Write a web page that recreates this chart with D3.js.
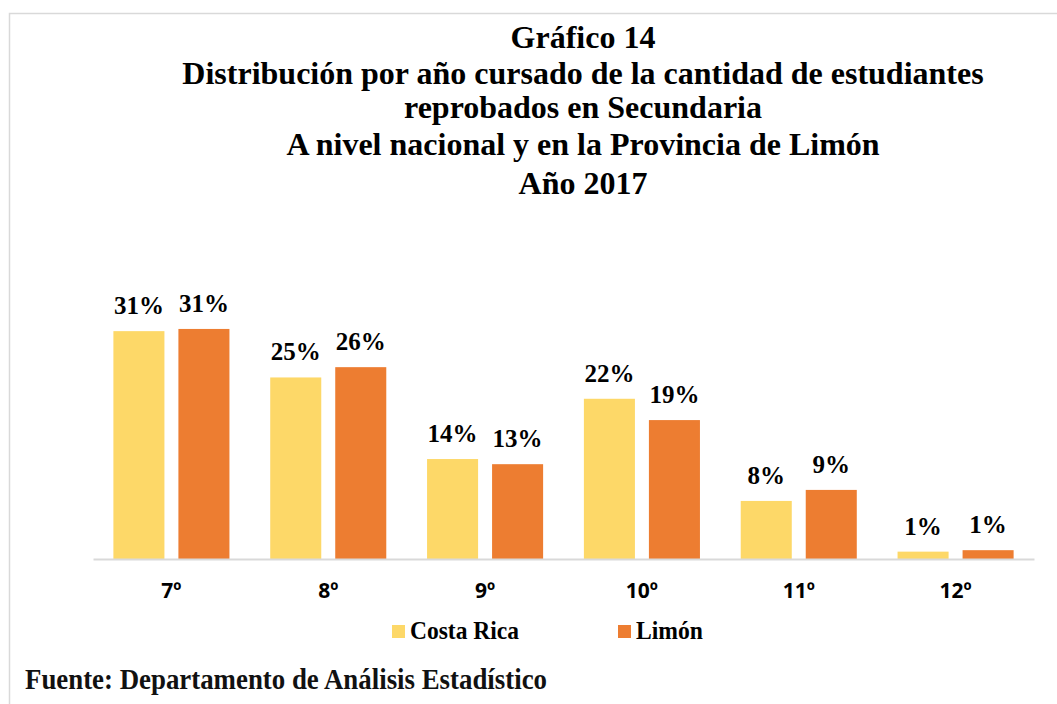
<!DOCTYPE html>
<html>
  <head>
    <meta charset="utf-8">
    <script type="text/javascript" src="https://d3js.org/d3.v7.min.js"></script>
    <style>
      body { margin:0; background:#fff; }
      svg { display:block; }
    </style>
  </head>
  <body>
  </body>
  <script>

// datos
var grados = ['7º','8º','9º','10º','11º','12º'];
var costaRica = [31.0, 24.7, 13.6, 21.8, 7.9, 1.0];
var limon     = [31.3, 26.1, 12.9, 18.9, 9.4, 1.2];
var series = ['Costa Rica','Limón'];
var colores = ['#FDD868','#ED7D31'];
var titulo = ['Gráfico 14',
  'Distribución por año cursado de la cantidad de estudiantes',
  'reprobados en Secundaria',
  'A nivel nacional y en la Provincia de Limón',
  'Año 2017'];
var fuente = 'Fuente: Departamento de Análisis Estadístico';

window.onload=function(){
  var W=1057, H=704;
  var serif='"Liberation Serif","Times New Roman",serif';

  var svg = d3.select("body").append("svg").attr("width", W).attr("height", H);

  // marco del grafico (se corta a la derecha y abajo)
  svg.append("rect").attr("x",9.5).attr("y",13.5).attr("width",1100).attr("height",800)
     .attr("fill","none").attr("stroke","#d9d9d9").attr("stroke-width",1.5);

  var baseY=[48,84,118,155,194];
  svg.selectAll("text.titulo").data(titulo).enter().append("text")
     .attr("class","titulo")
     .attr("x",583).attr("y",function(d,i){ return baseY[i]; })
     .attr("text-anchor","middle")
     .style("font-family",serif).style("font-weight","bold").style("font-size","32px")
     .text(function(d){ return d; });

  var x0 = d3.scaleBand().domain(grados).range([93,1034]).paddingInner(0.26).paddingOuter(0.13);
  var x1 = d3.scaleBand().domain(series).range([0,x0.bandwidth()]).paddingInner(0.215);
  var y = d3.scaleLinear().domain([0,35]).range([559, 559-35*7.35]);

  var filas = grados.map(function(g,i){
    return {g:g, vals:[{s:series[0], v:costaRica[i], c:colores[0]},{s:series[1], v:limon[i], c:colores[1]}]};
  });

  var grupos = svg.selectAll("g.grupo").data(filas).enter().append("g")
     .attr("class","grupo")
     .attr("transform",function(d){ return "translate("+x0(d.g)+",0)"; });

  grupos.selectAll("rect").data(function(d){ return d.vals; }).enter().append("rect")
     .attr("x",function(d){ return x1(d.s); })
     .attr("y",function(d){ return y(d.v); })
     .attr("width",x1.bandwidth())
     .attr("height",function(d){ return y(0)-y(d.v); })
     .attr("fill",function(d){ return d.c; });

  grupos.selectAll("text").data(function(d){ return d.vals; }).enter().append("text")
     .attr("x",function(d){ return x1(d.s)+x1.bandwidth()/2; })
     .attr("y",function(d){ return y(d.v)-17; })
     .attr("text-anchor","middle")
     .style("font-family",serif).style("font-weight","bold").style("font-size","25px")
     .text(function(d){ return Math.round(d.v)+'%'; });

  // eje x
  var eje = svg.append("g").attr("transform","translate(0,559)")
     .call(d3.axisBottom(x0).tickSize(0).tickPadding(0));
  eje.select(".domain").attr("stroke","#d9d9d9").attr("stroke-width",2);
  eje.selectAll("text")
     .attr("y",39).attr("dy",null)
     .style("font-family",'"Open Sans",sans-serif').style("font-weight","bold").style("font-size","21px")
     .attr("fill","#000");

  // leyenda
  var leyX=[392,618];
  var ley = svg.selectAll("g.ley").data(series).enter().append("g")
     .attr("class","ley")
     .attr("transform",function(d,i){ return "translate("+leyX[i]+",0)"; });
  ley.append("rect").attr("x",0).attr("y",625).attr("width",13).attr("height",13)
     .attr("fill",function(d,i){ return colores[i]; });
  ley.append("text").attr("x",18).attr("y",639)
     .attr("textLength",function(d,i){ return i===0 ? 109 : 67; }).attr("lengthAdjust","spacingAndGlyphs")
     .style("font-family",serif).style("font-weight","bold").style("font-size","25px")
     .text(function(d){ return d; });

  // fuente
  svg.append("text").attr("x",25).attr("y",689)
     .attr("textLength",522).attr("lengthAdjust","spacingAndGlyphs")
     .style("font-family",serif).style("font-weight","bold").style("font-size","29px")
     .attr("fill","#111")
     .text(fuente);
};

  </script>
</html>
